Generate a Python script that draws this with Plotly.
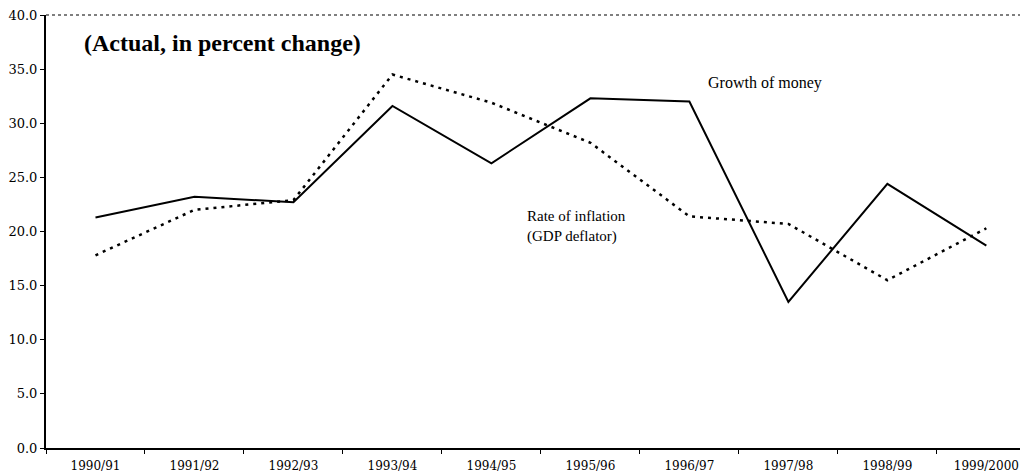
import plotly.graph_objects as go

years = ["1990/91", "1991/92", "1992/93", "1993/94", "1994/95",
         "1995/96", "1996/97", "1997/98", "1998/99", "1999/2000"]
money_growth = [21.3, 23.2, 22.7, 31.6, 26.3, 32.3, 32.0, 13.5, 24.4, 18.7]
inflation = [17.8, 22.0, 22.9, 34.5, 31.9, 28.2, 21.4, 20.7, 15.5, 20.3]
y_ticks = [0, 5, 10, 15, 20, 25, 30, 35, 40]
y_tick_text = ["0.0", "5.0", "10.0", "15.0", "20.0", "25.0", "30.0", "35.0", "40.0"]

serif = "Liberation Serif"
tick_serif = "DejaVu Serif"

W, H = 1022, 476
L, R, T, B = 46, 2, 15, 28


def px(x):
    return (x - L) / (W - L - R)


def py(y):
    return (H - B - y) / (H - B - T)


fig = go.Figure()
fig.add_trace(go.Scatter(x=years, y=money_growth, mode="lines",
                         line=dict(color="black", width=2), name="Growth of money"))
fig.add_trace(go.Scatter(x=years, y=inflation, mode="lines",
                         line=dict(color="black", width=2.5, dash="3px,5px"),
                         name="Rate of inflation (GDP deflator)"))

fig.add_annotation(x=px(82), y=py(43), xref="paper", yref="paper", showarrow=False,
                   xanchor="left", yanchor="middle",
                   text="<b>(Actual, in percent change)</b>",
                   font=dict(family=serif, size=24, color="black"))
fig.add_annotation(x=px(706), y=py(83), xref="paper", yref="paper", showarrow=False,
                   xanchor="left", yanchor="middle",
                   text="Growth of money",
                   font=dict(family=serif, size=16, color="black"))
fig.add_annotation(x=px(525), y=py(226), xref="paper", yref="paper", showarrow=False,
                   xanchor="left", yanchor="middle", align="left",
                   text="Rate of inflation<br>(GDP deflator)",
                   font=dict(family=serif, size=15, color="black"))

fig.add_shape(type="line", xref="paper", yref="paper", x0=0, x1=1, y0=1, y1=1,
              line=dict(color="#555555", width=1.5, dash="dot"))

fig.update_layout(
    width=W, height=H,
    margin=dict(l=L, r=R, t=T, b=B, autoexpand=False),
    paper_bgcolor="white", plot_bgcolor="white",
    showlegend=False,
    font=dict(family=serif, color="black"),
    xaxis=dict(type="category", range=[-0.5, 9.34], tickson="boundaries",
               ticks="outside", ticklen=4, tickcolor="black", automargin=False,
               ticklabelstandoff=6,
               showline=True, linecolor="black", linewidth=2,
               showgrid=False, zeroline=False,
               tickfont=dict(family=tick_serif, size=12, color="black")),
    yaxis=dict(range=[0, 40], tickvals=y_ticks, ticktext=y_tick_text,
               ticks="outside", ticklen=4, tickcolor="black", automargin=False,
               showline=True, linecolor="black", linewidth=2,
               showgrid=False, zeroline=False,
               tickfont=dict(family=tick_serif, size=13, color="black")),
)

fig.write_html("out.html", config={"displayModeBar": False},
               post_script="document.body.style.margin='0';")
